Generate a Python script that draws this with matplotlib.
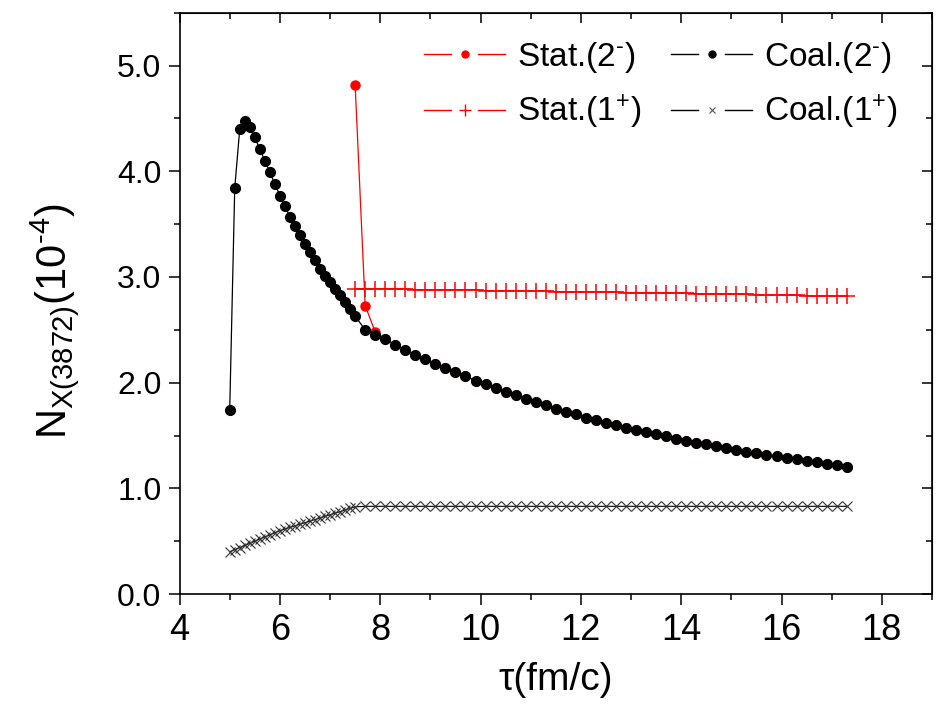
import matplotlib
matplotlib.use('Agg')
import matplotlib.pyplot as plt
from matplotlib.lines import Line2D
from matplotlib.legend_handler import HandlerBase
from matplotlib.ticker import MultipleLocator, FormatStrFormatter

plt.rcParams['font.family'] = ['Liberation Sans', 'DejaVu Sans']
plt.rcParams['mathtext.fontset'] = 'custom'
plt.rcParams['mathtext.rm'] = 'Liberation Sans'
plt.rcParams['mathtext.it'] = 'Liberation Sans'
plt.rcParams['mathtext.default'] = 'regular'

# tempo (fm/c)
tau_inicio = [5.0, 5.1, 5.2, 5.3, 5.4, 5.5, 5.6, 5.7, 5.8, 5.9, 6.0, 6.1, 6.2,
              6.3, 6.4, 6.5, 6.6, 6.7, 6.8, 6.9, 7.0, 7.1, 7.2, 7.3, 7.4, 7.5]
tau_fim = [7.7, 7.9, 8.1, 8.3, 8.5, 8.7, 8.9, 9.1, 9.3, 9.5, 9.7, 9.9, 10.1,
           10.3, 10.5, 10.7, 10.9, 11.1, 11.3, 11.5, 11.7, 11.9, 12.1, 12.3,
           12.5, 12.7, 12.9, 13.1, 13.3, 13.5, 13.7, 13.9, 14.1, 14.3, 14.5,
           14.7, 14.9, 15.1, 15.3, 15.5, 15.7, 15.9, 16.1, 16.3, 16.5, 16.7,
           16.9, 17.1, 17.3]

# Coal.(2-)
coal2_inicio = [1.74, 3.84, 4.40, 4.48, 4.42, 4.32, 4.21, 4.10, 3.99, 3.88,
                3.77, 3.67, 3.57, 3.48, 3.40, 3.31, 3.24, 3.16, 3.08, 3.01,
                2.95, 2.89, 2.83, 2.76, 2.70, 2.63]
coal2_fim = [2.50, 2.455, 2.41, 2.36, 2.31, 2.265, 2.22, 2.18, 2.14, 2.10,
             2.06, 2.02, 1.985, 1.95, 1.91, 1.88, 1.845, 1.815, 1.785, 1.755,
             1.725, 1.70, 1.67, 1.645, 1.62, 1.597, 1.575, 1.553, 1.532, 1.511,
             1.491, 1.471, 1.452, 1.433, 1.415, 1.397, 1.380, 1.363, 1.347,
             1.331, 1.318, 1.303, 1.289, 1.275, 1.261, 1.247, 1.233, 1.219,
             1.205]

# Coal.(1+)
coal1_inicio = [0.40, 0.42, 0.44, 0.46, 0.48, 0.50, 0.52, 0.54, 0.56, 0.58,
                0.60, 0.615, 0.63, 0.645, 0.66, 0.675, 0.69, 0.705, 0.72,
                0.735, 0.75, 0.765, 0.78, 0.795, 0.81, 0.825]
coal1_fim = [0.83, 0.83, 0.83, 0.83, 0.83, 0.83, 0.83, 0.83, 0.83, 0.83,
             0.83, 0.83, 0.83, 0.83, 0.83, 0.83, 0.83, 0.83, 0.83, 0.83,
             0.83, 0.83, 0.83, 0.83, 0.83, 0.83, 0.83, 0.83, 0.83, 0.83,
             0.83, 0.83, 0.83, 0.83, 0.83, 0.83, 0.83, 0.83, 0.83, 0.83,
             0.83, 0.83, 0.83, 0.83, 0.83, 0.83, 0.83, 0.83, 0.83]

# Stat.(2-): primeiros pontos, depois coincide com Coal.(2-)
stat2_inicio = [4.82, 2.73, 2.48]

# Stat.(1+)
stat1 = [2.89, 2.89, 2.89, 2.89, 2.89, 2.89, 2.88, 2.88, 2.88, 2.88,
         2.88, 2.88, 2.88, 2.87, 2.87, 2.87, 2.87, 2.87, 2.87, 2.87,
         2.86, 2.86, 2.86, 2.86, 2.86, 2.86, 2.86, 2.85, 2.85, 2.85,
         2.85, 2.85, 2.85, 2.85, 2.84, 2.84, 2.84, 2.84, 2.84, 2.84,
         2.83, 2.83, 2.83, 2.83, 2.83, 2.82, 2.82, 2.82, 2.82, 2.82]

tau_coal = tau_inicio + tau_fim
coal2 = coal2_inicio + coal2_fim
coal1 = coal1_inicio + coal1_fim
tau_stat = [7.5] + tau_fim
stat2 = stat2_inicio + coal2_fim[2:]


class HandlerOrigin(HandlerBase):
    # linha - marcador - linha, com espaco em volta do marcador
    def create_artists(self, legend, orig_handle, xdescent, ydescent,
                       width, height, fontsize, trans):
        y = height / 2.0 - ydescent
        x0 = -xdescent
        x1 = x0 + width
        xm = (x0 + x1) / 2.0
        g = 0.17 * width
        cor = orig_handle.get_color()
        l1 = Line2D([x0, xm - g], [y, y], color=cor, lw=1.0)
        l2 = Line2D([xm + g, x1], [y, y], color=cor, lw=1.0)
        m = Line2D([xm], [y], ls='none', marker=orig_handle.get_marker(),
                   ms=orig_handle.get_markersize(), mew=orig_handle.get_markeredgewidth(),
                   mfc=orig_handle.get_markerfacecolor(), mec=orig_handle.get_markeredgecolor())
        for a in (l1, l2, m):
            a.set_transform(trans)
        return [l1, l2, m]


fig = plt.figure(figsize=(9.42, 7.21), dpi=100)
ax = fig.add_axes([0.1906, 0.1761, 0.7988, 0.8062])

ax.plot(tau_stat, stat2, color='red', lw=0.9, marker='o', ms=6.5, mec='red', zorder=2)
ax.plot(tau_coal, coal2, color='black', lw=0.9, marker='o', ms=7, zorder=3)
ax.plot(tau_stat, stat1, color='red', lw=0.9, marker='+', ms=11, mew=1.1, zorder=2)
ax.plot(tau_coal, coal1, color='black', lw=0.8, marker='x', ms=7.5, mew=0.8,
        mec='#333333', zorder=2)

ax.set_xlim(4, 19)
ax.set_ylim(0, 5.5)
ax.xaxis.set_major_locator(MultipleLocator(2))
ax.xaxis.set_minor_locator(MultipleLocator(1))
ax.yaxis.set_major_locator(MultipleLocator(1))
ax.yaxis.set_minor_locator(MultipleLocator(0.5))
ax.yaxis.set_major_formatter(FormatStrFormatter('%.1f'))

for lado in ax.spines.values():
    lado.set_linewidth(1.2)

ax.tick_params(which='major', direction='out', length=8, width=1.1, pad=5)
ax.tick_params(which='minor', direction='out', length=4.5, width=1.1)
ax.tick_params(axis='y', labelsize=23)
ax.tick_params(axis='x', labelsize=26, pad=6)

topo = ax.secondary_xaxis('top')
topo.xaxis.set_major_locator(MultipleLocator(2))
topo.xaxis.set_minor_locator(MultipleLocator(1))
topo.tick_params(which='major', direction='in', length=7, width=1.1, labeltop=False)
topo.tick_params(which='minor', direction='in', length=4, width=1.1)
direita = ax.secondary_yaxis('right')
direita.yaxis.set_major_locator(MultipleLocator(1))
direita.yaxis.set_minor_locator(MultipleLocator(0.5))
direita.tick_params(which='major', direction='in', length=7, width=1.1, labelright=False)
direita.tick_params(which='minor', direction='in', length=4, width=1.1)

ax.set_xlabel('τ(fm/c)', fontsize=28, labelpad=10)
ax.set_ylabel(r'$N_{X(3872)}(10^{\text{-}4})$', fontsize=30, labelpad=26, y=0.47)

h_s2 = Line2D([], [], color='red', marker='o', ms=5, mec='red')
h_c2 = Line2D([], [], color='black', marker='o', ms=5)
h_s1 = Line2D([], [], color='red', marker='+', ms=8, mew=1.0)
h_c1 = Line2D([], [], color='black', marker='x', ms=5, mew=0.8, mec='#555555')

ax.legend([h_s2, h_s1, h_c2, h_c1],
          [r'Stat.(2$^{\text{-}}$)', r'Stat.(1$^{+}$)',
           r'Coal.(2$^{\text{-}}$)', r'Coal.(1$^{+}$)'],
          handler_map={Line2D: HandlerOrigin()},
          ncol=2, loc='upper left', bbox_to_anchor=(0.325, 0.953),
          frameon=False, fontsize=24, handlelength=2.43, handletextpad=0.35,
          columnspacing=0.9, labelspacing=0.53, borderpad=0, borderaxespad=0)

fig.savefig('out.png', dpi=100)
